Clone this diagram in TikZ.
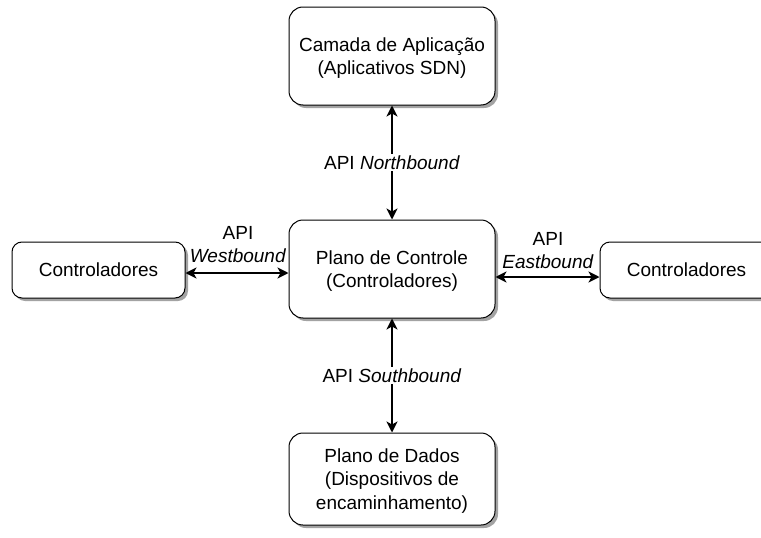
\documentclass[tikz,border=0pt]{standalone}
\usepackage{fontspec}
\setmainfont{Liberation Sans}
\usetikzlibrary{shadows,arrows.meta}
\begin{document}
\begin{tikzpicture}[x=1pt,y=-1pt,
  box/.style={draw=black, line width=1pt, fill=white, rounded corners=14pt,
    align=center, inner sep=0pt, text depth=0pt,
    drop shadow={shadow xshift=3pt, shadow yshift=-3pt, fill=black!45, opacity=0.8},
    font=\fontsize{19}{23.5}\selectfont},
  smallbox/.style={box, rounded corners=10pt},
  conn/.style={line width=1.8pt, {Stealth[length=11pt,width=11pt,inset=3pt]}-{Stealth[length=11pt,width=11pt,inset=3pt]}},
  lbl/.style={fill=white, inner sep=2pt, align=center, font=\fontsize{19}{23}\selectfont}
]
\useasboundingbox (0,0) rectangle (761,538);
\node[box, minimum width=206pt, minimum height=98pt] (top) at (392,56) {Camada de Aplicação\\(Aplicativos SDN)};
\node[box, minimum width=206pt, minimum height=98pt] (ctrl) at (392,269) {Plano de Controle\\(Controladores)};
\node[box, minimum width=206pt, minimum height=92pt] (data) at (392,479) {Plano de Dados\\(Dispositivos de\\encaminhamento)};
\node[smallbox, minimum width=173pt, minimum height=56pt] (left) at (98.5,270) {Controladores};
\node[smallbox, minimum width=173pt, minimum height=56pt] (right) at (686.5,270) {Controladores};

\draw[conn] (top.south) -- node[lbl] (nl) {API \textit{Northbound}} (ctrl.north);
\draw[conn] (ctrl.south) -- node[lbl] (sl) {API \textit{Southbound}} (data.north);
\draw[conn] (left.east |- 0,273) -- (ctrl.west |- 0,273);
\draw[conn] (ctrl.east |- 0,277) -- (right.west |- 0,277);
\node[lbl, fill=none, inner sep=0pt] (wl) at (238,245) {API\\\textit{Westbound}};
\node[lbl, fill=none, inner sep=0pt] (el) at (548,251) {API\\\textit{Eastbound}};
\end{tikzpicture}
\end{document}
